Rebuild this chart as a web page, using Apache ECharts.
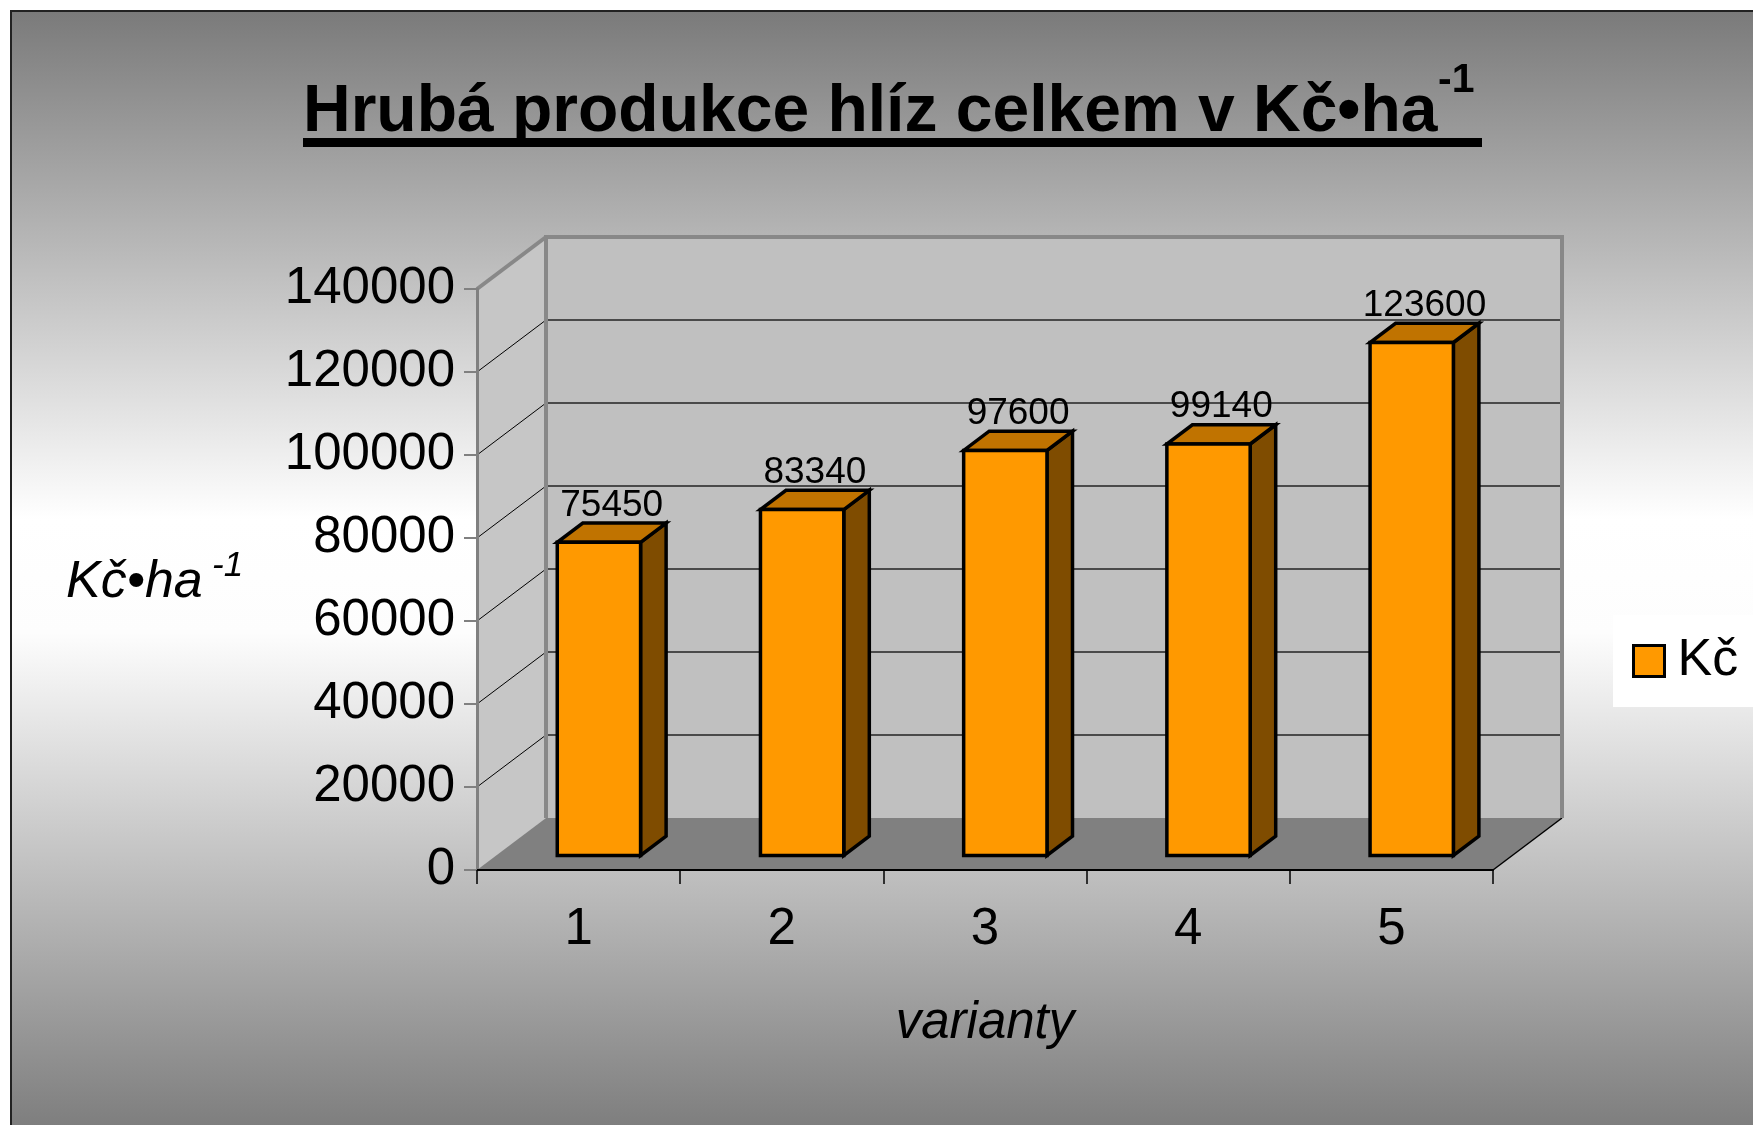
<!DOCTYPE html>
<html>
<head>
<meta charset="utf-8">
<title>Hrubá produkce hlíz celkem</title>
<script src="https://cdn.jsdelivr.net/npm/echarts@6/dist/echarts.min.js"></script>
<style>
  html, body { margin: 0; padding: 0; background: #fff; }
  #chart { width: 1753px; height: 1125px; }
</style>
</head>
<body>
<div id="chart"></div>
<script>
// data
const categories = ['1', '2', '3', '4', '5'];
const values = [75450, 83340, 97600, 99140, 123600];
const seriesName = 'Kč';
const yTicks = [0, 20000, 40000, 60000, 80000, 100000, 120000, 140000];
const yMin = 0, yMax = 140000, yStep = 20000;

const FONT = "'Liberation Sans', Arial, sans-serif";
// fake 3d: depth of the box and where the bars sit inside it
const DX = 69, DY = -52;
const F0 = 0.28, F1 = 0.65;
const BAR_W = 0.41;

const chart = echarts.init(document.getElementById('chart'));

function renderFrame(params, api) {
  const cs = params.coordSys;
  const x0 = cs.x, x1 = cs.x + cs.width, y0 = cs.y, y1 = cs.y + cs.height;
  const kids = [];
  // left wall + back wall
  kids.push({ type: 'polygon', shape: { points: [[x0, y0], [x0 + DX, y0 + DY], [x0 + DX, y1 + DY], [x0, y1]] },
    style: { fill: '#c6c6c6' } });
  kids.push({ type: 'rect', shape: { x: x0 + DX, y: y0 + DY, width: cs.width, height: cs.height },
    style: { fill: '#c0c0c0' } });
  // gridlines
  yTicks.forEach(t => {
    if (t === yMin || t === yMax) return;
    const y = api.coord([0, t])[1];
    kids.push({ type: 'line', shape: { x1: x0, y1: y, x2: x0 + DX, y2: y + DY },
      style: { stroke: '#000', lineWidth: 1 } });
    kids.push({ type: 'line', shape: { x1: x0 + DX, y1: y + DY, x2: x1 + DX, y2: y + DY },
      style: { stroke: '#4a4a4a', lineWidth: 2 } });
  });
  // floor
  kids.push({ type: 'polygon', shape: { points: [[x0, y1], [x1, y1], [x1 + DX, y1 + DY], [x0 + DX, y1 + DY]] },
    style: { fill: '#808080' } });
  kids.push({ type: 'line', shape: { x1: x1, y1: y1, x2: x1 + DX, y2: y1 + DY },
    style: { stroke: '#000', lineWidth: 1.5 } });
  // wall borders
  kids.push({ type: 'polyline', shape: { points: [[x0 + DX, y1 + DY], [x0 + DX, y0 + DY], [x1 + DX, y0 + DY], [x1 + DX, y1 + DY]] },
    style: { stroke: '#888', lineWidth: 4, fill: null } });
  kids.push({ type: 'line', shape: { x1: x0, y1: y0, x2: x0 + DX, y2: y0 + DY },
    style: { stroke: '#888', lineWidth: 4 } });
  return { type: 'group', children: kids };
}

function renderBar(params, api) {
  const i = api.value(0), v = api.value(1);
  const top = api.coord([i, v]);
  const base = api.coord([i, 0]);
  const w = api.size([1, 0])[0] * BAR_W;
  const ox = DX * F0, oy = DY * F0;
  const dx = DX * (F1 - F0), dy = DY * (F1 - F0);
  const xl = top[0] - w / 2 + ox + 1, xr = xl + w;
  const yt = top[1] + oy, yb = base[1] + oy;
  const line = { stroke: '#000', lineWidth: 3.5, lineJoin: 'miter' };
  return {
    type: 'group',
    children: [
      { type: 'polygon', shape: { points: [[xr, yt], [xr + dx, yt + dy], [xr + dx, yb + dy], [xr, yb]] },
        style: Object.assign({ fill: '#7f4c00' }, line) },
      { type: 'polygon', shape: { points: [[xl, yt], [xr, yt], [xr + dx, yt + dy], [xl + dx, yt + dy]] },
        style: Object.assign({ fill: '#c07300' }, line) },
      { type: 'rect', shape: { x: xl, y: yt, width: w, height: yb - yt },
        style: Object.assign({ fill: '#ff9900' }, line) },
      { type: 'text', style: { text: String(v), x: (xl + xr) / 2 + dx / 2, y: yt + dy + 1,
        align: 'center', verticalAlign: 'bottom', font: '37px ' + FONT, fill: '#000' } }
    ]
  };
}

const bgGradient = new echarts.graphic.LinearGradient(0, 0, 0, 1, [
  { offset: 0, color: '#7a7a7a' },
  { offset: 0.45, color: '#ffffff' },
  { offset: 0.55, color: '#fdfdfd' },
  { offset: 1, color: '#7a7a7a' }
]);

const option = {
  backgroundColor: '#fff',
  animation: false,
  grid: { left: 477, top: 289, width: 1016, height: 581 },
  xAxis: {
    type: 'category',
    data: categories,
    z: 10,
    axisLine: { lineStyle: { color: '#000', width: 2 } },
    axisTick: { show: true, length: 14, lineStyle: { color: '#000', width: 1.5 } },
    axisLabel: { fontSize: 51, fontFamily: FONT, color: '#000', margin: 34 },
    name: 'varianty',
    nameLocation: 'middle',
    nameGap: 128,
    nameTextStyle: { fontSize: 51, fontFamily: FONT, fontStyle: 'italic', color: '#000' }
  },
  yAxis: {
    type: 'value',
    min: yMin, max: yMax, interval: yStep,
    z: 10,
    axisLine: { show: true, lineStyle: { color: '#808080', width: 3 } },
    axisTick: { show: true, length: 13, lineStyle: { color: '#808080', width: 2 } },
    axisLabel: { fontSize: 51, fontFamily: FONT, color: '#000', margin: 22, formatter: v => String(v) },
    splitLine: { show: false }
  },
  legend: {
    left: 1613, top: 615,
    orient: 'vertical',
    backgroundColor: '#fff',
    padding: [20, 20, 20, 19],
    itemWidth: 31, itemHeight: 31,
    selectedMode: false,
    data: [{ name: seriesName, icon: 'rect', itemStyle: { color: '#ff9900', borderColor: '#000', borderWidth: 3 } }],
    textStyle: { fontSize: 52, fontFamily: FONT, color: '#000', padding: [0, 0, 0, 8] }
  },
  graphic: [
    { type: 'rect', z: -10, silent: true, shape: { x: 11, y: 11, width: 1760, height: 1130 },
      style: { fill: bgGradient, stroke: '#222', lineWidth: 2 } },
    { type: 'text', x: 303, y: 113, style: { text: 'Hrubá produkce hlíz celkem v Kč•ha',
      font: 'bold 66px ' + FONT, fill: '#000', verticalAlign: 'middle' } },
    { type: 'text', x: 1438, y: 81, style: { text: '-1', font: 'bold 41px ' + FONT, fill: '#000', verticalAlign: 'middle' } },
    { type: 'rect', shape: { x: 303, y: 138, width: 1179, height: 9 }, style: { fill: '#000' } },
    { type: 'text', x: 66, y: 583, style: { text: 'Kč•ha', font: 'italic 52px ' + FONT, fill: '#000', verticalAlign: 'middle' } },
    { type: 'text', x: 212, y: 566, style: { text: '-1', font: 'italic 35px ' + FONT, fill: '#000', verticalAlign: 'middle' } }
  ],
  series: [
    { type: 'custom', name: 'frame', silent: true, z: 1, data: [[0, 0]], renderItem: renderFrame },
    { type: 'custom', name: seriesName, z: 4, data: values.map((v, i) => [i, v]),
      encode: { x: 0, y: 1 }, itemStyle: { color: '#ff9900' }, renderItem: renderBar }
  ]
};

chart.setOption(option);
</script>
</body>
</html>
